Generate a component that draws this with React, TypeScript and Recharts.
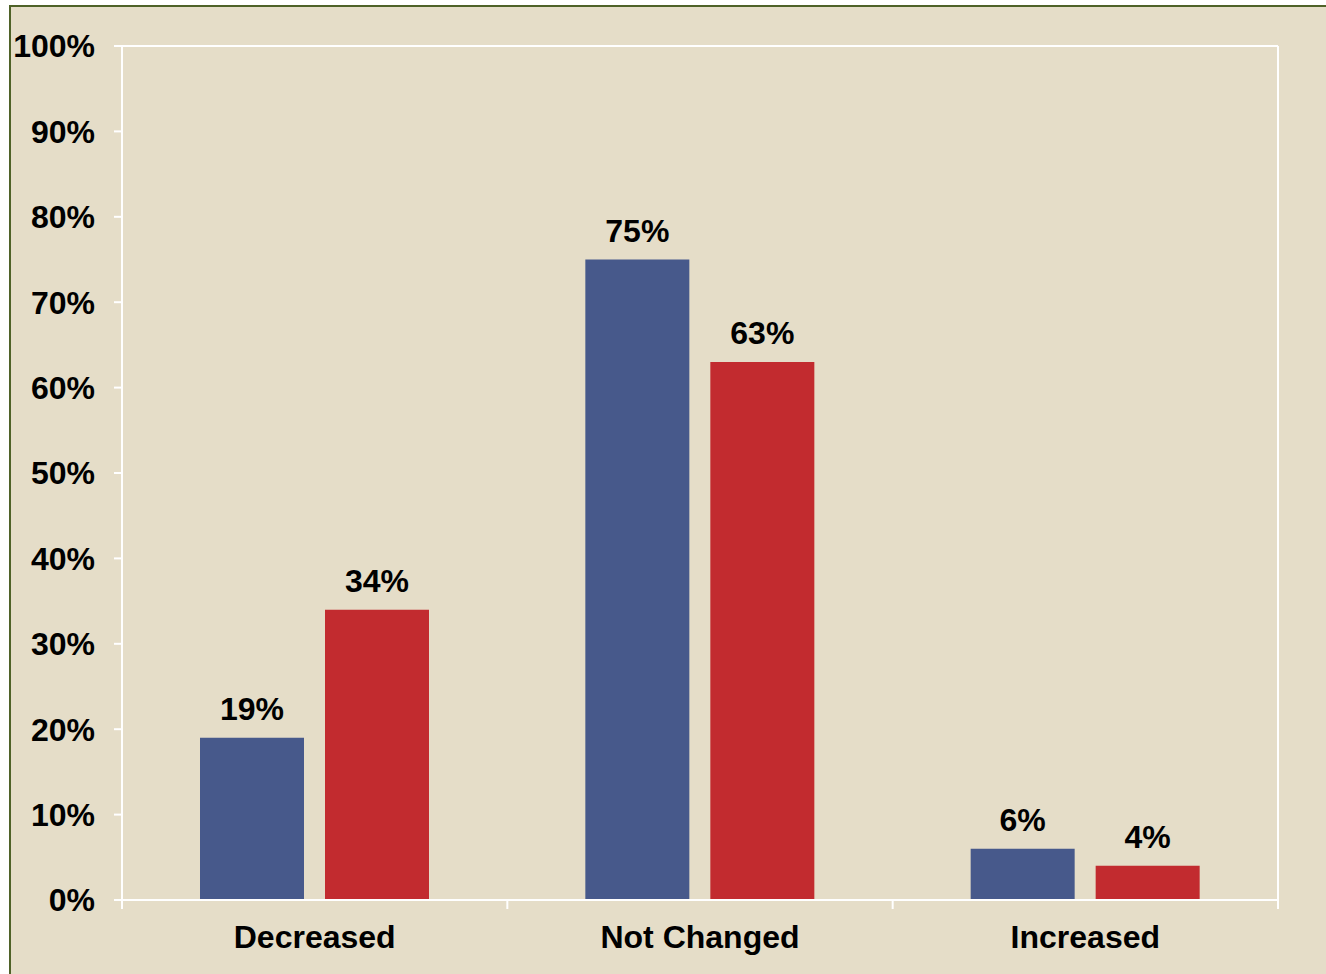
import { BarChart, Bar, XAxis, YAxis, LabelList } from 'recharts';

const categories = ['Decreased', 'Not Changed', 'Increased'];
const seriesA = [19, 75, 6];
const seriesB = [34, 63, 4];
const yTicks = [0, 10, 20, 30, 40, 50, 60, 70, 80, 90, 100];

const BLUE = '#47598B';
const RED = '#C22B2F';
const BG = '#E5DDC8';
const FRAME = '#4F6228';
const FONT = '"Liberation Sans", Arial, sans-serif';
const TICK_MARGIN = 25;

const data = categories.map((name, i) => ({ name, a: seriesA[i], b: seriesB[i] }));

const labelStyle = { fill: '#000', fontSize: 32, fontWeight: 700, fontFamily: FONT };
const whiteLine = { stroke: '#fff', strokeWidth: 2 };

// category label plus tick marks on the category boundaries (Excel style)
function CategoryTick(props: any) {
  const { x, y, payload, index, visibleTicksCount, width } = props;
  const half = payload?.offset ?? width / visibleTicksCount / 2;
  const axisY = y - TICK_MARGIN;
  return (
    <g>
      <line x1={x - half} x2={x - half} y1={axisY} y2={axisY + 9} stroke="#fff" strokeWidth={2} />
      {index === visibleTicksCount - 1 && (
        <line x1={x + half} x2={x + half} y1={axisY} y2={axisY + 9} stroke="#fff" strokeWidth={2} />
      )}
      <text x={x} y={y} dy="0.71em" textAnchor="middle" {...labelStyle}>
        {payload.value}
      </text>
    </g>
  );
}

export default function App() {
  return (
    <div style={{ position: 'absolute', left: 0, top: 0, width: 1326, height: 974, background: '#fff', overflow: 'hidden' }}>
      <div
        style={{
          position: 'absolute',
          left: 9,
          top: 5,
          width: 1340,
          height: 990,
          background: BG,
          borderLeft: `2px solid ${FRAME}`,
          borderTop: `2px solid ${FRAME}`,
        }}
      />
      <div style={{ position: 'absolute', left: 0, top: 0 }}>
        <BarChart
          width={1326}
          height={974}
          data={data}
          margin={{ top: 45, right: 47, bottom: 0, left: 0 }}
          barSize={104}
          barGap={21}
        >
          <XAxis
            dataKey="name"
            height={74}
            axisLine={whiteLine}
            tickLine={false}
            tickSize={0}
            tickMargin={TICK_MARGIN}
            tick={<CategoryTick />}
            interval={0}
          />
          <XAxis
            xAxisId="top"
            orientation="top"
            type="number"
            domain={[0, 3]}
            height={1}
            axisLine={whiteLine}
            tick={false}
            tickLine={false}
          />
          <YAxis
            width={122}
            domain={[0, 100]}
            ticks={yTicks}
            interval={0}
            tickFormatter={(v: number) => `${v}%`}
            axisLine={whiteLine}
            tickLine={whiteLine}
            tickSize={8}
            tickMargin={19}
            tick={labelStyle}
          />
          <YAxis
            yAxisId="right"
            orientation="right"
            width={1}
            domain={[0, 100]}
            axisLine={whiteLine}
            tick={false}
            tickLine={false}
          />
          <Bar dataKey="a" fill={BLUE} isAnimationActive={false}>
            <LabelList dataKey="a" position="top" offset={18} formatter={(v: number) => `${v}%`} style={labelStyle} />
          </Bar>
          <Bar dataKey="b" fill={RED} isAnimationActive={false}>
            <LabelList dataKey="b" position="top" offset={18} formatter={(v: number) => `${v}%`} style={labelStyle} />
          </Bar>
        </BarChart>
      </div>
    </div>
  );
}
